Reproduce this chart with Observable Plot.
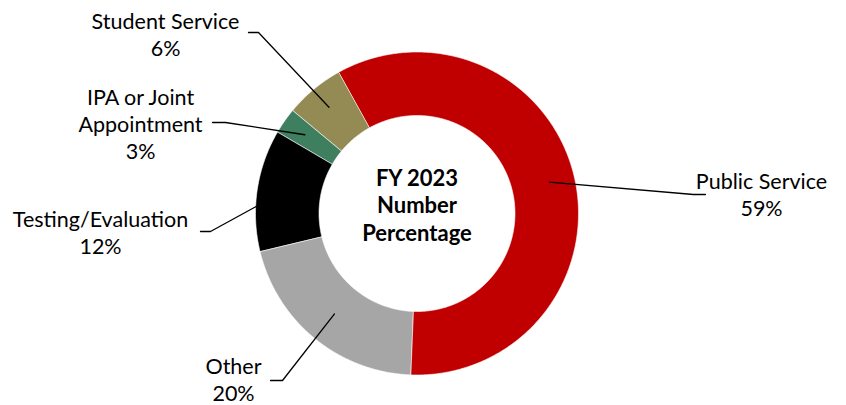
<!DOCTYPE html>
<html>
<head>
<meta charset="utf-8">
<script src="https://cdn.jsdelivr.net/npm/d3@7"></script>
<script src="https://cdn.jsdelivr.net/npm/@observablehq/plot@0.6"></script>
<style>
  html, body { margin: 0; padding: 0; background: #fff; }
  #chart svg { display: block; }
</style>
</head>
<body>
<div id="chart"></div>
<script>
// ---- Data ----
const categories = ["Public Service", "Other", "Testing/Evaluation", "IPA or Joint Appointment", "Student Service"];
const shares = [58.7, 20.6, 12.2, 2.6, 5.9];           // % of total (slice sizes)
const percentLabels = ["59%", "20%", "12%", "3%", "6%"];
const labelNames = ["Public Service", "Other", "Testing/Evaluation", "IPA or Joint\nAppointment", "Student Service"];
const colors = ["#C00000", "#A6A6A6", "#000000", "#3D7F5E", "#948A54"];
const centerTitle = "FY 2023\nNumber\nPercentage";

// ---- Layout (chart units = pixels of the 846x405 frame) ----
const W = 846, H = 405;
const cx = 416.5, cy = 213;
const rOuter = 161.5, rInner = 98;
const startAngle = -29;                                  // degrees clockwise from 12 o'clock
const labelPos = [[761, 193.5], [233, 378.5], [100, 231.5], [140, 122.5], [165, 33.5]];
const leaderElbow = [[[705, 194], [693, 194]], [[270, 380], [282, 380]], [[200, 231], [210, 231]], [[212, 122], [225, 122]], [[248, 32], [258, 32]]];
const leaderTip = [[null, 136], [null, 130], [272.5, 161], [null, 137], [null, 138]]; // [angle override, radius]

// ---- Build slices ----
const total = d3.sum(shares);
let acc = startAngle;
const slices = categories.map((name, i) => {
  const a0 = acc, a1 = acc + shares[i] / total * 360;
  acc = a1;
  return {name, a0, a1, mid: (a0 + a1) / 2, color: colors[i]};
});
const polar = (angDeg, r) => {
  const t = angDeg * Math.PI / 180;
  return [cx + r * Math.sin(t), cy - r * Math.cos(t)];
};
const ringPts = [];
for (const s of slices) {
  const n = Math.max(4, Math.ceil((s.a1 - s.a0) / 0.5));
  for (let k = 0; k <= n; k++) {
    const [x, y] = polar(s.a0 + (s.a1 - s.a0) * k / n, rOuter);
    ringPts.push({name: s.name, x, y, color: s.color});
  }
  for (let k = n; k >= 0; k--) {
    const [x, y] = polar(s.a0 + (s.a1 - s.a0) * k / n, rInner);
    ringPts.push({name: s.name, x, y, color: s.color});
  }
}

// leader lines
const leaderPts = [];
slices.forEach((s, i) => {
  const [e0, e1] = leaderElbow[i];
  const ang = leaderTip[i][0] ?? s.mid;
  const [tx, ty] = polar(ang, leaderTip[i][1]);
  leaderPts.push({name: s.name, x: e0[0], y: e0[1]}, {name: s.name, x: e1[0], y: e1[1]}, {name: s.name, x: tx, y: ty});
});

const labelData = slices.map((s, i) => ({
  text: labelNames[i] + "\n" + percentLabels[i],
  x: labelPos[i][0], y: labelPos[i][1]
}));

const chart = Plot.plot({
  width: W, height: H,
  margin: 0,
  x: {domain: [0, W], range: [0, W], axis: null},
  y: {domain: [0, H], range: [0, H], axis: null},
  style: {fontFamily: "Lato, 'Open Sans', sans-serif", background: "#fff"},
  marks: [
    Plot.line(ringPts, {x: "x", y: "y", z: "name", fill: "color", stroke: "#fff", strokeWidth: 0.6, curve: "linear-closed"}),
    Plot.line(leaderPts, {x: "x", y: "y", z: "name", stroke: "#000", strokeWidth: 1.3}),
    Plot.text(labelData, {x: "x", y: "y", text: "text", fontSize: 21.5, lineHeight: 1.26, fill: "#000", textAnchor: "middle"}),
    Plot.text([centerTitle], {x: () => cx, y: () => 204, text: d => d, fontSize: 22, fontWeight: "bold", lineHeight: 1.27, fill: "#000", textAnchor: "middle"})
  ]
});
document.getElementById("chart").appendChild(chart);
</script>
</body>
</html>
